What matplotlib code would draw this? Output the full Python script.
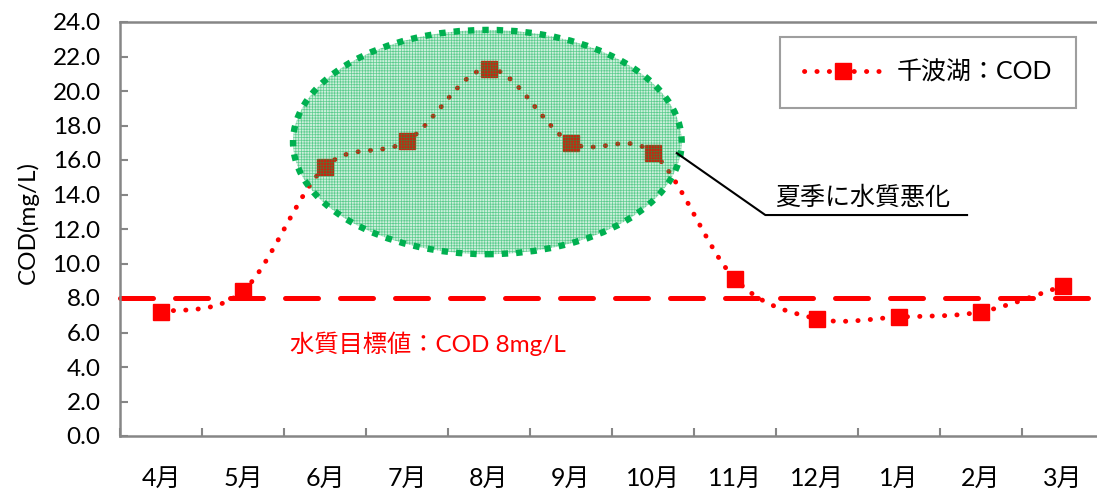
import numpy as np
import matplotlib
matplotlib.use("Agg")
import matplotlib.pyplot as plt
from matplotlib.path import Path
from matplotlib.patches import PathPatch, Ellipse
from matplotlib.lines import Line2D

plt.rcParams['font.family'] = ['Lato', 'Noto Sans CJK JP', 'DejaVu Sans']
plt.rcParams['hatch.linewidth'] = 0.5

months = ['4月', '5月', '6月', '7月', '8月', '9月', '10月', '11月', '12月', '1月', '2月', '3月']
cod = [7.2, 8.4, 15.6, 17.1, 21.3, 17.0, 16.4, 9.1, 6.8, 6.9, 7.2, 8.7]
target = 8.0
series_name = '千波湖：COD'
target_label = '水質目標値：COD 8mg/L'
note_label = '夏季に水質悪化'

red = '#FF0000'
green = '#00B050'
gray = '#868686'

W, H = 1097, 491
fig = plt.figure(figsize=(W / 100, H / 100), dpi=100)
ax = fig.add_axes([120 / W, (H - 436) / H, (1104 - 120) / W, (436 - 22) / H])

x = np.arange(len(months))
y = np.array(cod)


def smooth_path(xs, ys):
    # excel-like smoothed line: bezier through each point
    pts = np.column_stack([xs, ys]).astype(float)
    n = len(pts)
    verts = [pts[0]]
    codes = [Path.MOVETO]
    for i in range(n - 1):
        p0 = pts[i - 1] if i > 0 else pts[i]
        p1 = pts[i]
        p2 = pts[i + 1]
        p3 = pts[i + 2] if i + 2 < n else pts[i + 1]
        verts += [p1 + (p2 - p0) / 6, p2 - (p3 - p1) / 6, p2]
        codes += [Path.CURVE4] * 3
    return Path(verts, codes)


dotted = (0, (0.05, 2.5))
ax.add_patch(PathPatch(smooth_path(x, y), facecolor='none', edgecolor=red,
                       lw=3.5, linestyle=dotted, capstyle='round', zorder=3))
ax.plot(x, y, 's', color=red, ms=12, zorder=4)

# target line
ax.axhline(target, color=red, lw=3.6, linestyle=(0, (6.6, 4.4)),
           dash_capstyle='round', zorder=2, clip_on=False)
ax.text(1.57, 5.33, target_label, color=red, fontsize=17.5, va='center', ha='left')

# summer ellipse
ax.add_patch(Ellipse((3.98, 17.04), 4.74, 13.0, facecolor=(0, 0.69, 0.31, 0.2),
                     edgecolor=(0, 0.69, 0.31, 0.55), lw=0, hatch='++++++', zorder=5))
ax.add_patch(Ellipse((3.98, 17.04), 4.74, 13.0, fill=False, edgecolor=green,
                     lw=4.6, linestyle=(0, (1, 1.25)), capstyle='butt', zorder=6))

# callout
ax.plot([6.29, 7.37, 9.83], [16.4, 12.81, 12.81], color='black', lw=1.5, zorder=7, clip_on=False)
ax.text(7.49, 13.83, note_label, fontsize=18, va='center', ha='left', zorder=7)

ax.set_xlim(-0.5, len(months) - 0.5)
ax.set_ylim(0, 24)
ax.set_yticks(np.arange(0, 24.1, 2))
ax.set_yticklabels(['%.1f' % v for v in np.arange(0, 24.1, 2)])
ax.set_xticks(np.arange(-0.5, len(months), 1))
ax.set_xticklabels([])
ax.set_xticks(x, minor=True)
ax.set_xticklabels(months, minor=True)
ax.tick_params(axis='x', which='major', direction='in', length=6, width=1.5, color=gray)
ax.tick_params(axis='x', which='minor', length=0, pad=22, labelsize=18)
ax.tick_params(axis='y', direction='in', length=6, width=1.5, color=gray, pad=14, labelsize=17.5)
for side in ['left', 'bottom', 'top']:
    ax.spines[side].set_color(gray)
    ax.spines[side].set_linewidth(1.8)
ax.spines['right'].set_visible(False)

fig.text(28 / W, 1 - 222 / H, 'COD(mg/L)', rotation=90, fontsize=17.5, ha='center', va='center')

handle = Line2D([], [], color=red, lw=3.5, linestyle=dotted, dash_capstyle='round',
                marker='s', ms=12)
leg = fig.legend([handle], [series_name], loc='upper left', bbox_to_anchor=(780 / W, 1 - 37 / H),
                 bbox_transform=fig.transFigure, borderaxespad=0, fontsize=18, frameon=True,
                 fancybox=False, edgecolor=gray, handlelength=3.1, handletextpad=0.6,
                 borderpad=0.95, numpoints=1)
leg.get_frame().set_linewidth(1.5)

fig.savefig('out.png', dpi=100)
